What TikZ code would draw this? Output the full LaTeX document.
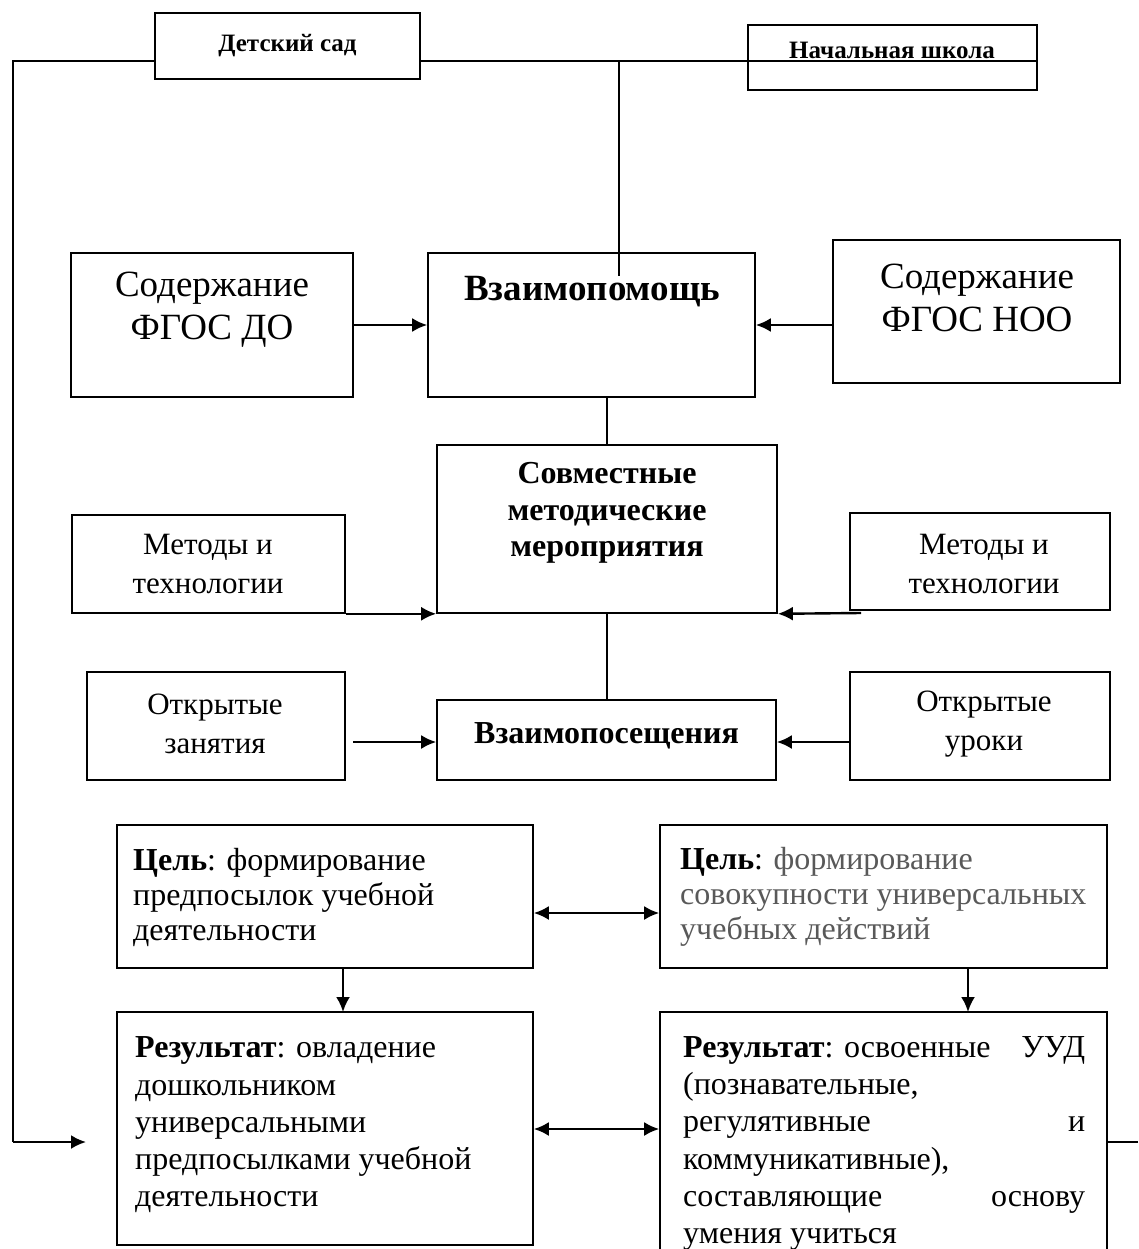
\documentclass[tikz,border=0pt]{standalone}
\usepackage{fontspec}
\setmainfont{Liberation Serif}
\usetikzlibrary{arrows.meta}
\definecolor{graytext}{HTML}{595959}
\tikzset{
  box/.style={draw=black, line width=1.6pt, inner sep=0pt},
  txt/.style={inner sep=0pt, align=center},
  ltxt/.style={inner sep=0pt, align=flush left, anchor=west},
  conn/.style={draw=black, line width=1.4pt},
  arr/.style={draw=black, line width=2.4pt, -{Latex[length=15pt,width=14pt]}},
  darr/.style={draw=black, line width=2.4pt, {Latex[length=15pt,width=14pt]}-{Latex[length=15pt,width=14pt]}},
}
\newcommand{\fsA}{\fontsize{25}{30}\selectfont}
\newcommand{\fsB}{\fontsize{37}{43}\selectfont}
\newcommand{\fsC}{\fontsize{37}{43}\selectfont}
\newcommand{\fsD}{\fontsize{32}{36.5}\selectfont}
\newcommand{\fsE}{\fontsize{31}{38.5}\selectfont}
\newcommand{\fsF}{\fontsize{32}{35}\selectfont}
\newcommand{\fsG}{\fontsize{32}{37.3}\selectfont}
\begin{document}
\begin{tikzpicture}[x=1pt,y=-1pt]
\useasboundingbox (0,0) rectangle (1138,1249);
\fill[white] (0,0) rectangle (1138,1249);

% top boxes
\node[box, minimum width=265pt, minimum height=66pt] (dsad) at (287.5,46) {};
\node[txt, font=\fsA\bfseries, anchor=base] (dsadT) at (287.5,52) {Детский сад};
\node[box, minimum width=289pt, minimum height=65pt] (nsch) at (892.5,57.5) {};
\node[txt, font=\fsA\bfseries, anchor=base] (nschT) at (892,59) {Начальная школа};

\coordinate (dL) at (155,61);
\coordinate (dR) at (420,61);
\coordinate (nR) at (1037,61);
\coordinate (lc1) at (13,61);
\coordinate (lc2) at (13,1142);
\coordinate (lend) at (86,1142);
\coordinate (top) at (619,61);
\coordinate (vin) at (619,276);

% row 2
\node[box, minimum width=282pt, minimum height=144pt] (sfdo) at (212,325) {};
\node[txt, font=\fsB] (sfdoT) at (212,310) {Содержание\\ФГОС ДО};
\node[box, minimum width=327pt, minimum height=144pt] (vzp) at (591.5,325) {};
\node[txt, font=\fsC\bfseries, anchor=base] (vzpT) at (592,300) {Взаимопомощь};
\node[box, minimum width=287pt, minimum height=143pt] (sfnoo) at (976.5,311.5) {};
\node[txt, font=\fsB] (sfnooT) at (977,298) {Содержание\\ФГОС НОО};

% row 3
\node[box, minimum width=340pt, minimum height=168pt] (svm) at (607,529) {};
\node[txt, font=\fsD\bfseries] (svmT) at (607,513) {Совместные\\методические\\мероприятия};
\node[box, minimum width=273pt, minimum height=98pt] (mt1) at (208.5,564) {};
\node[txt, font=\fsE] (mt1T) at (208,564) {Методы и\\технологии};
\node[box, minimum width=260pt, minimum height=97pt] (mt2) at (980,561.5) {};
\node[txt, font=\fsE] (mt2T) at (984,564) {Методы и\\технологии};
\coordinate (mt2a) at (861,613);

% row 4
\node[box, minimum width=339pt, minimum height=80pt] (vzs) at (606.5,740) {};
\node[txt, font=\fsD\bfseries, anchor=base] (vzsT) at (606.5,743) {Взаимопосещения};
\node[box, minimum width=258pt, minimum height=108pt] (oz) at (216,726) {};
\node[txt, font=\fsE] (ozT) at (215,724) {Открытые\\занятия};
\node[box, minimum width=260pt, minimum height=108pt] (ou) at (980,726) {};
\node[txt, font=\fsE] (ouT) at (984,724) {Открытые\\уроки};
\coordinate (oza) at (353,742);

% row 5
\node[box, minimum width=416pt, minimum height=143pt] (cel1) at (325,896.5) {};
\node[ltxt, font=\fsF, text width=400pt] (cel1T) at (133,897) {\textbf{Цель}: формирование\\предпосылок учебной\\деятельности};
\node[box, minimum width=447pt, minimum height=143pt] (cel2) at (883.5,896.5) {};
\node[ltxt, font=\fsF, text width=425pt] (cel2T) at (680,897) {\textbf{Цель}: \textcolor{graytext}{формирование}\\\textcolor{graytext}{совокупности универсальных}\\\textcolor{graytext}{учебных действий}};

% row 6
\node[box, minimum width=416pt, minimum height=233pt] (res1) at (325,1128.5) {};
\node[ltxt, font=\fsG, text width=395pt] (res1T) at (135,1125) {\textbf{Результат}: овладение\\дошкольником\\универсальными\\предпосылками учебной\\деятельности};
\node[box, minimum width=447pt, minimum height=260pt] (res2) at (883.5,1142) {};
\node[ltxt, font=\fsG, text width=402pt] (res2T) at (683,1143.5) {\textbf{Результат}: освоенные \hfill УУД\\(познавательные,\\регулятивные \hfill и\\коммуникативные),\\составляющие \hfill основу\\умения учиться};
\coordinate (rR) at (1138,1142);

% connectors
\draw[conn] (dL) -- (lc1) -- (lc2);
\draw[arr] (lc2) -- (lend);
\draw[conn] (dR) -- (nR);
\draw[conn] (top) -- (vin);
\draw[arr] (sfdo.east |- vzp.west) -- (vzp.west);
\draw[arr] (sfnoo.west |- vzp.east) -- (vzp.east);
\draw[conn] (svm.north) -- (svm.north |- vzp.south);
\draw[arr] (mt1.south east) -- (svm.south west);
\draw[arr] (mt2a) -- (svm.south east);
\draw[conn] (svm.south) -- (svm.south |- vzs.north);
\draw[arr] (oza) -- (oza -| vzs.west);
\draw[arr] (ou.west |- oza) -- (vzs.east |- oza);
\draw[darr] (cel1.east |- 0,913) -- (cel2.west |- 0,913);
\draw[arr] (343,968) -- (343,1012);
\draw[arr] (968,968) -- (968,1012);
\draw[darr] (res1.east |- 0,1129) -- (res2.west |- 0,1129);
\draw[conn, line width=2pt] (rR) -- (res2.east |- rR);
\end{tikzpicture}
\end{document}
